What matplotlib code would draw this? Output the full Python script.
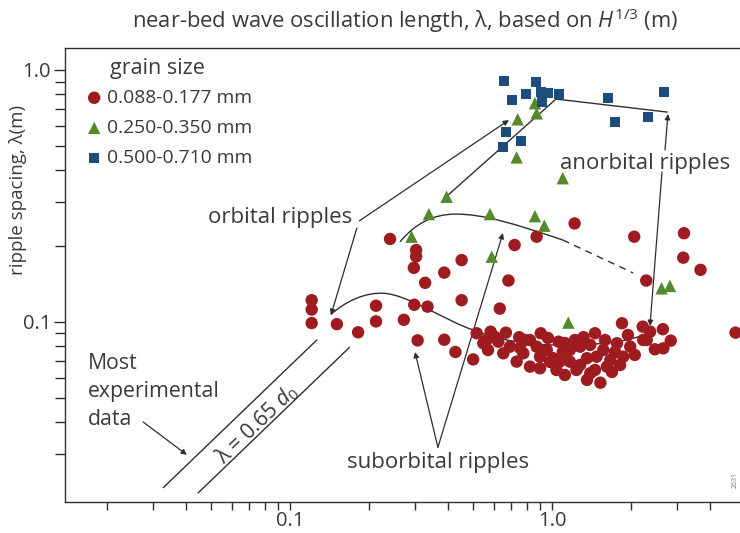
import matplotlib
matplotlib.use("Agg")
import matplotlib.pyplot as plt
from matplotlib.path import Path
from matplotlib.patches import PathPatch
from matplotlib.ticker import FixedLocator, NullFormatter

plt.rcParams['font.family'] = ['Open Sans', 'DejaVu Sans']
plt.rcParams['mathtext.fontset'] = 'custom'
plt.rcParams['mathtext.rm'] = 'Open Sans'
plt.rcParams['mathtext.it'] = 'Open Sans:italic'

TXT = '#3a3a3a'
LN = '#2e2e2e'

# grain size 0.088-0.177 mm
fine_x = [0.121, 0.121, 0.121, 0.151, 0.182, 0.213, 0.213, 0.272, 0.298, 0.335,
          0.307, 0.388, 0.428, 0.500, 0.241, 0.303, 0.303, 0.297, 0.328, 0.388,
          0.452, 0.452, 0.720, 0.682, 0.632, 0.874, 1.22, 2.06, 3.19, 3.17,
          3.69, 2.29, 5.02, 1.85, 2.22, 2.37, 2.65, 2.84, 2.47, 2.66,
          2.30, 0.516, 0.583, 0.667, 0.750, 0.906, 1.06, 1.32, 1.46, 0.547,
          0.624, 0.691, 0.777, 0.874, 0.955, 1.17, 1.28, 1.57, 1.77, 1.99,
          2.23, 0.652, 0.733, 0.900, 1.01, 1.17, 1.36, 1.48, 1.67, 1.87,
          0.900, 1.04, 1.24, 1.40, 1.62, 1.36, 1.53, 1.82, 0.824, 0.563,
          0.789, 1.12, 1.40, 1.07, 0.570, 0.824, 0.965, 1.10, 1.224, 1.594,
          1.74, 1.95, 2.07, 1.28, 1.12, 1.459, 1.694, 0.983, 0.755, 0.606]
fine_y = [0.122, 0.112, 0.099, 0.098, 0.091, 0.116, 0.1005, 0.102, 0.117, 0.115,
          0.0845, 0.085, 0.076, 0.071, 0.2135, 0.193, 0.182, 0.164, 0.143, 0.157,
          0.176, 0.122, 0.202, 0.146, 0.113, 0.218, 0.246, 0.218, 0.225, 0.180,
          0.161, 0.146, 0.0907, 0.0988, 0.0958, 0.0915, 0.0936, 0.0843, 0.0779, 0.0786,
          0.0848, 0.0902, 0.0915, 0.0907, 0.0870, 0.0902, 0.0835, 0.0870, 0.0902, 0.0823,
          0.0835, 0.0798, 0.0751, 0.0798, 0.0774, 0.0774, 0.0798, 0.0774, 0.0823, 0.0798,
          0.0848, 0.0751, 0.0696, 0.0728, 0.0718, 0.0696, 0.0718, 0.0728, 0.0707, 0.0728,
          0.0655, 0.0645, 0.0645, 0.0626, 0.0665, 0.0589, 0.0574, 0.0675, 0.0665, 0.0848,
          0.0848, 0.0825, 0.0811, 0.0696, 0.0774, 0.0848, 0.0864, 0.0760, 0.0848, 0.0848,
          0.0760, 0.0888, 0.0740, 0.0675, 0.0616, 0.0645, 0.0633, 0.0694, 0.0789, 0.0872]

# grain size 0.250-0.350 mm
medium_x = [0.740, 0.861, 0.874, 0.733, 1.099, 0.396, 0.339, 0.580, 0.861, 0.935,
            0.291, 0.589, 2.62, 2.82, 1.154]
medium_y = [0.637, 0.738, 0.673, 0.450, 0.372, 0.314, 0.268, 0.268, 0.263, 0.241,
            0.218, 0.1816, 0.136, 0.139, 0.0994]

# grain size 0.500-0.710 mm
coarse_x = [0.658, 0.869, 0.794, 0.908, 0.963, 1.066, 0.705, 0.914, 1.64, 2.68,
            1.74, 2.33, 0.667, 0.760, 0.652]
coarse_y = [0.907, 0.899, 0.803, 0.820, 0.808, 0.803, 0.760, 0.748, 0.772, 0.820,
            0.623, 0.649, 0.569, 0.524, 0.496]

grain_labels = ['0.088-0.177 mm', '0.250-0.350 mm', '0.500-0.710 mm']
colors = ['#9e1c20', '#538a2a', '#1d4d7c']

# bounds of the band of most experimental data, lambda = k * d0
band_k = [0.67, 0.47]
band_x0 = [0.0329, 0.0447]
band_x1 = [0.1264, 0.1684]

fig = plt.figure(figsize=(7.4, 5.33), dpi=100)
ax = fig.add_axes([0.0878, 0.0582, 0.9122, 0.8518])
ax.set_xscale('log')
ax.set_yscale('log')
ax.set_xlim(0.01384, 5.22)
ax.set_ylim(0.0193, 1.223)

ax.scatter(fine_x, fine_y, s=80, marker='o', color=colors[0], edgecolors='none',
           label=grain_labels[0], zorder=3)
ax.scatter(medium_x, medium_y, s=80, marker='^', color=colors[1], edgecolors='none',
           label=grain_labels[1], zorder=3)
ax.scatter(coarse_x, coarse_y, s=52, marker='s', color=colors[2], edgecolors='none',
           label=grain_labels[2], zorder=3)

# band lines
for k, a, b in zip(band_k, band_x0, band_x1):
    ax.plot([a, b], [k * a, k * b], color=LN, lw=1.0, zorder=2)

def bez(pts, ls='-'):
    codes = [Path.MOVETO] + [Path.CURVE4] * (len(pts) - 1)
    ax.add_patch(PathPatch(Path(pts, codes), fill=False, edgecolor=LN, lw=1.0,
                           linestyle=ls, zorder=2))

# fine sand trend
bez([(0.143, 0.107), (0.165, 0.122), (0.195, 0.131), (0.227, 0.130),
     (0.28, 0.129), (0.40, 0.100), (0.50, 0.093),
     (0.62, 0.085), (0.80, 0.081), (1.07, 0.081),
     (1.5, 0.081), (2.0, 0.083), (2.33, 0.091)])
# medium sand trend
bez([(0.263, 0.208), (0.30, 0.245), (0.35, 0.268), (0.43, 0.268),
     (0.55, 0.268), (0.72, 0.245), (1.10, 0.2115)])
ax.plot([1.10, 2.04], [0.2115, 0.1565], color=LN, lw=1.0, ls=(0, (5, 4)), zorder=2)
# coarse sand trend
ax.plot([0.40, 1.036, 2.747], [0.318, 0.767, 0.681], color=LN, lw=1.0, zorder=2)

arrow = dict(arrowstyle='-|>', color=LN, lw=0.9, mutation_scale=8,
             shrinkA=0, shrinkB=0)

def arr(tip, start):
    ax.annotate('', xy=tip, xytext=start, arrowprops=arrow, zorder=2)

fs = 16
# orbital ripples
ax.text(0.0486, 0.2586, 'orbital ripples', fontsize=fs, color=TXT, ha='left', va='center')
arr((0.685, 0.633), (0.184, 0.252))
arr((0.1434, 0.1066), (0.180, 0.236))
# suborbital ripples
ax.text(0.165, 0.0278, 'suborbital ripples', fontsize=fs, color=TXT, ha='left', va='center')
arr((0.300, 0.0760), (0.367, 0.0318))
arr((0.650, 0.2255), (0.367, 0.0318))
# anorbital ripples
ax.text(1.073, 0.424, 'anorbital ripples', fontsize=fs, color=TXT, ha='left', va='center')
arr((2.772, 0.669), (2.70, 0.4814))
arr((2.366, 0.0964), (2.63, 0.3937))
# most experimental data
ax.text(0.01694, 0.0755, 'Most\nexperimental\ndata', fontsize=15.3, color=TXT,
        ha='left', va='top', linespacing=1.45)
arr((0.0404, 0.0297), (0.0275, 0.0401))
ax.text(0.0745, 0.0395, r'λ = 0.65 $d_0$', fontsize=15.3, color=TXT, rotation=44,
        rotation_mode='anchor', ha='center', va='center')

# axes styling
ax.spines['right'].set_visible(False)
for s in ['left', 'bottom', 'top']:
    ax.spines[s].set_color(LN)
    ax.spines[s].set_linewidth(1.0)

ax.xaxis.set_major_locator(FixedLocator([0.1, 1.0]))
ax.xaxis.set_minor_locator(FixedLocator([0.02, 0.03, 0.04, 0.05, 0.06, 0.07, 0.08, 0.09,
                                         0.2, 0.3, 0.4, 0.5, 0.6, 0.7, 0.8, 0.9,
                                         2, 3, 4]))
ax.yaxis.set_major_locator(FixedLocator([0.1, 1.0]))
ax.yaxis.set_minor_locator(FixedLocator([0.03, 0.04, 0.05, 0.06, 0.07, 0.08, 0.09,
                                         0.2, 0.3, 0.4, 0.5, 0.6, 0.7, 0.8, 0.9]))
ax.set_xticklabels(['0.1', '1.0'])
ax.set_yticklabels(['0.1', '1.0'])
ax.xaxis.set_minor_formatter(NullFormatter())
ax.yaxis.set_minor_formatter(NullFormatter())
ax.tick_params(which='both', direction='out', color=LN, width=1.0, labelcolor=TXT,
               labelsize=14.5)
ax.tick_params(axis='y', which='major', length=8, pad=2)
ax.tick_params(axis='y', which='minor', length=7)
ax.tick_params(axis='x', which='both', length=6, pad=0.5)

leg = ax.legend(loc='upper left', bbox_to_anchor=(0.029, 0.91), frameon=False,
                fontsize=13.9, handletextpad=0.14, labelspacing=0.63,
                handlelength=1.0, borderaxespad=0, borderpad=0, labelcolor=TXT)
ax.text(0.0667, 0.954, 'grain size', transform=ax.transAxes, fontsize=15.5,
        color=TXT, ha='left', va='center')

fig.text(0.547, 0.962,
         r'near-bed wave oscillation length, λ, based on $H^{1/3}$ (m)',
         fontsize=15.8, color=TXT, ha='center', va='center')
fig.text(0.024, 0.6435, 'ripple spacing, λ(m)', fontsize=13.5, color=TXT,
         rotation=90, ha='center', va='center')
fig.text(0.993, 0.10, '2631', fontsize=5, color='#777777', rotation=90,
         ha='center', va='center')

fig.savefig('out.png', dpi=100)
